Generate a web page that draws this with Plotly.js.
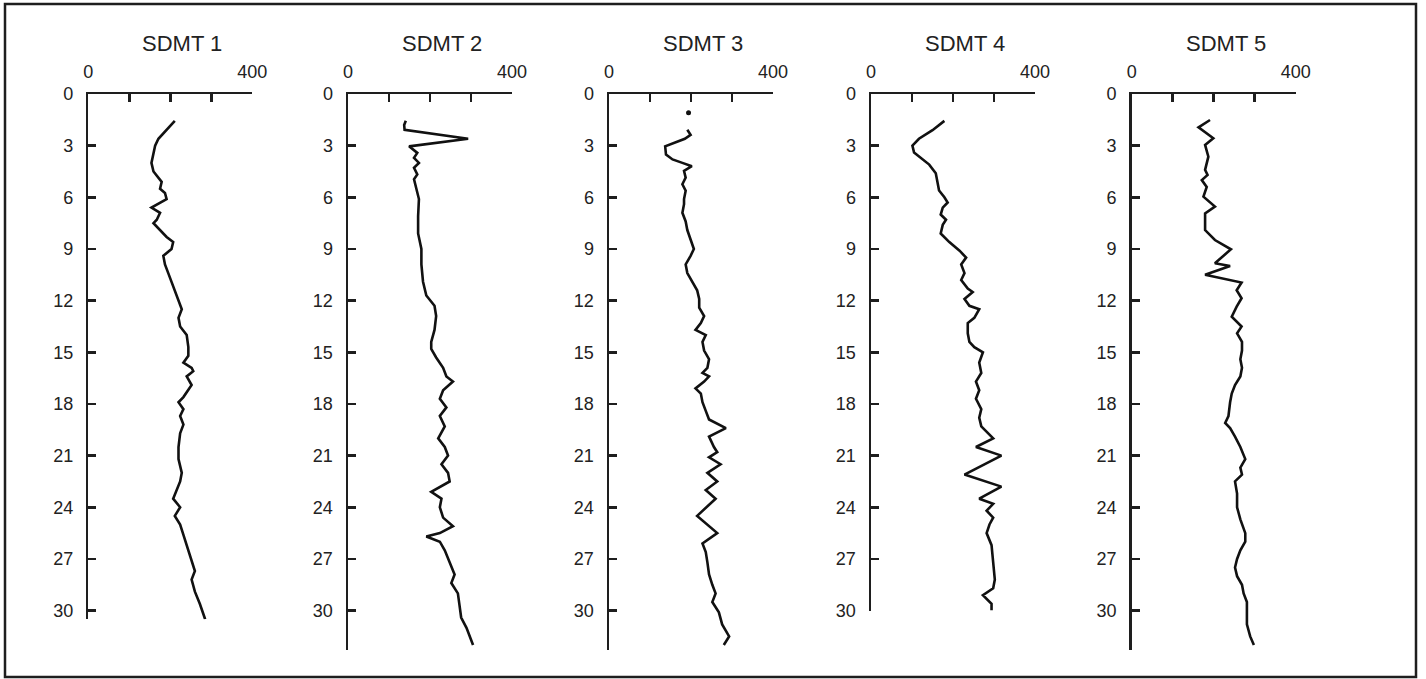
<!DOCTYPE html>
<html>
<head>
<meta charset="utf-8">
<script src="https://cdn.plot.ly/plotly-3.0.1.min.js"></script>
<style>
html,body{margin:0;padding:0;background:#fff;}
#chart{width:1426px;height:679px;}
</style>
</head>
<body>
<div id="chart"></div>
<script>
// ---- Data (depth in m, value) ----
const panelTitles = ["SDMT 1", "SDMT 2", "SDMT 3", "SDMT 4", "SDMT 5"];
const xTickVals = [0, 100, 200, 300, 400];
const xTickText = ["0", "", "", "", "400"];
const yTickVals = [0, 3, 6, 9, 12, 15, 18, 21, 24, 27, 30];

const depth1 = [1.56,2.1,2.6,3.0,3.4,4.0,4.5,4.9,5.1,5.5,5.75,6.1,6.3,6.6,6.9,7.3,7.5,7.9,8.3,8.6,9.0,9.4,9.9,10.4,10.9,11.4,11.9,12.5,13.0,13.5,14.0,14.7,15.2,15.6,15.9,16.1,16.4,16.9,17.6,17.9,18.3,18.7,19.2,19.7,20.5,21.2,22.0,22.5,23.5,24.0,24.5,25.0,25.6,26.2,26.9,27.4,27.7,28.2,28.9,29.6,30.5];
const value1 = [211,191,171,163,159,154,159,171,179,175,187,191,175,154,175,167,159,175,191,207,203,183,187,195,203,211,220,228,220,224,240,244,244,232,252,256,240,252,232,220,232,224,232,224,220,220,228,224,207,224,211,224,232,240,248,256,260,252,260,272,285];

const depth2 = [1.55,1.8,2.08,2.6,3.04,3.42,3.71,4.0,4.28,4.67,4.95,5.33,5.7,6.1,7.1,8.1,9.0,9.9,10.9,11.7,12.3,12.9,13.7,14.4,14.8,15.3,15.9,16.4,16.7,17.2,17.7,18.2,18.7,19.3,20.0,20.5,21.0,21.5,22.0,22.5,23.1,23.5,24.0,24.6,25.1,25.5,25.7,26.0,26.5,27.2,27.9,28.4,29.0,29.7,30.4,31.0,32.0];
const value2 = [141,137,138,293,149,169,161,173,161,169,161,165,169,173,171,171,179,179,183,191,211,215,211,203,203,215,232,240,256,232,224,240,224,236,220,236,244,228,244,248,203,228,224,232,256,224,191,224,236,248,260,252,268,272,276,289,305];

const depth3 = [2.08,2.37,2.6,3.04,3.52,3.8,4.0,4.19,4.47,4.86,5.24,5.62,6.1,6.4,6.9,7.4,7.9,8.5,9.0,9.4,9.9,10.4,10.9,11.4,11.9,12.4,12.9,13.3,13.7,14.0,14.4,14.9,15.4,15.9,16.2,16.4,16.7,17.1,17.4,17.9,18.4,18.9,19.4,19.9,20.5,20.8,21.1,21.5,22.0,22.5,23.0,23.5,24.5,25.1,25.5,26.1,26.6,27.2,27.9,28.5,29.0,29.5,30.1,30.8,31.5,32.0];
const value3 = [191,199,185,137,139,155,179,202,183,187,179,187,183,183,179,187,191,199,207,199,187,191,203,215,220,220,232,224,211,236,228,232,244,240,228,244,232,211,224,228,236,244,285,244,256,264,244,272,240,264,236,260,215,244,264,228,236,240,244,252,260,252,268,276,293,280];
const depth3Point = [1.09];
const value3Point = [194];

const depth4 = [1.56,2.1,2.6,3.0,3.4,3.7,4.1,4.6,5.1,5.6,6.0,6.3,6.6,7.0,7.3,7.6,8.1,8.6,9.1,9.5,9.9,10.4,10.8,11.3,11.5,11.9,12.3,12.5,13.0,13.3,13.9,14.4,14.7,15.0,15.6,16.2,16.7,17.2,17.7,18.3,18.8,19.3,20.0,20.5,21.0,22.1,22.8,23.2,23.5,23.8,24.2,24.6,25.0,25.5,26.2,27.2,28.2,28.7,29.1,29.6,30.0];
const value4 = [179,150,117,101,105,121,142,158,162,166,179,187,175,170,183,175,170,191,216,232,220,228,220,236,248,228,240,264,252,236,236,240,252,273,264,269,256,264,256,269,264,269,298,256,318,228,318,289,264,298,282,298,289,282,294,298,302,298,273,294,294];

const depth5 = [1.51,1.94,2.57,2.96,3.64,4.41,4.7,5.0,5.4,5.96,6.54,6.93,7.9,8.48,9.02,9.83,9.99,10.5,10.95,11.4,11.86,12.35,12.93,13.5,13.9,14.4,14.9,15.4,15.9,16.4,16.9,17.4,17.9,18.7,19.1,19.4,19.9,20.5,21.2,21.7,22.1,22.5,23.2,24.0,24.7,25.5,26.0,26.5,27.0,27.5,28.0,28.5,29.0,29.5,30.0,30.8,31.5,32.0];
const value5 = [191,163,199,179,187,179,185,171,183,175,203,179,179,203,242,203,240,179,268,256,268,256,244,268,257,269,269,265,269,265,252,244,240,236,228,240,252,265,277,265,269,252,257,257,265,277,277,265,257,252,257,269,273,281,281,281,289,298];

const depthMax = [30.5, 32.3, 32.3, 30.0, 32.3];

// ---- Layout geometry ----
const W = 1426, H = 679;
const panelLeft = [88.3, 348, 609, 871, 1131.7];
const panelWidth = 164;
const topPx = 94;
const pxPerUnit = 17.22;

const series = [
  [value1, depth1], [value2, depth2], [value3, depth3], [value4, depth4], [value5, depth5]
];

const INK = '#1e1e1e';
const TXT = '#222';
const FONT = 'Liberation Sans, Arial, Helvetica, sans-serif';

const traces = [];
const layout = {
  width: W, height: H,
  margin: {l: 0, r: 0, t: 0, b: 0, pad: 0},
  paper_bgcolor: '#fff', plot_bgcolor: 'rgba(0,0,0,0)',
  showlegend: false,
  font: {family: FONT, color: TXT},
  annotations: [],
  shapes: [{
    type: 'rect', xref: 'paper', yref: 'paper',
    x0: 5/W, x1: 1416/W, y0: 1 - 677/H, y1: 1 - 4/H,
    line: {color: INK, width: 2.5}
  }]
};

series.forEach((s, i) => {
  const n = i + 1;
  const xa = n === 1 ? 'x' : 'x' + n;
  const ya = n === 1 ? 'y' : 'y' + n;
  traces.push({
    type: 'scatter', mode: 'lines', x: s[0], y: s[1],
    xaxis: xa, yaxis: ya,
    line: {color: '#111', width: 2.6}, hoverinfo: 'skip'
  });
  const x0 = panelLeft[i];
  layout['xaxis' + (n === 1 ? '' : n)] = {
    domain: [x0 / W, (x0 + panelWidth) / W],
    anchor: ya, side: 'top', range: [0, 400],
    tickmode: 'array', tickvals: xTickVals, ticktext: xTickText,
    ticks: 'inside', ticklen: 8, tickwidth: 2.5, tickcolor: INK,
    showline: true, linecolor: INK, linewidth: 2.5,
    showgrid: false, zeroline: false, automargin: false,
    tickfont: {size: 18, color: TXT, family: FONT},
    ticklabelstandoff: 6, fixedrange: true
  };
  const R = depthMax[i];
  layout['yaxis' + (n === 1 ? '' : n)] = {
    domain: [1 - (topPx + R * pxPerUnit) / H, 1 - topPx / H],
    anchor: xa, range: [R, 0],
    tickmode: 'array', tickvals: yTickVals,
    ticks: 'inside', ticklen: 8, tickwidth: 2.5, tickcolor: INK,
    showline: true, linecolor: INK, linewidth: 2.5,
    showgrid: false, zeroline: false, automargin: false,
    tickfont: {size: 18, color: TXT, family: FONT},
    ticklabelstandoff: 9, fixedrange: true
  };
  layout.annotations.push({
    text: panelTitles[i], xref: 'paper', yref: 'paper',
    x: (x0 + panelWidth / 2 + 12) / W, y: 1 - 43 / H,
    xanchor: 'center', yanchor: 'middle', showarrow: false,
    font: {size: 22, color: TXT, family: FONT}
  });
});

traces.push({
  type: 'scatter', mode: 'markers', x: value3Point, y: depth3Point,
  xaxis: 'x3', yaxis: 'y3',
  marker: {color: '#111', size: 5}, hoverinfo: 'skip'
});

Plotly.newPlot('chart', traces, layout, {displayModeBar: false, staticPlot: true});
</script>
</body>
</html>
